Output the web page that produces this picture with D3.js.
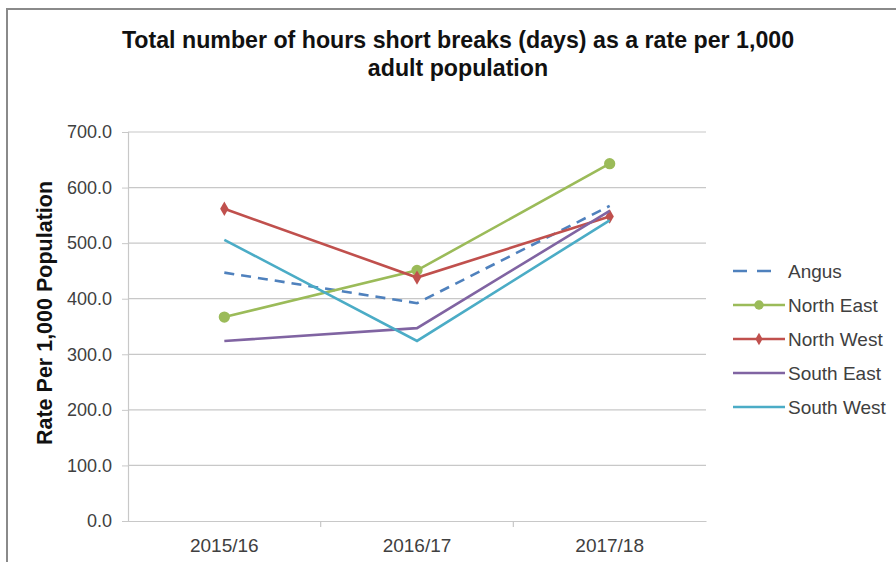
<!DOCTYPE html>
<html>
<head>
<meta charset="utf-8">
<script src="https://cdnjs.cloudflare.com/ajax/libs/d3/7.8.5/d3.min.js"></script>
<style>
  body { margin: 0; background: #fff; }
  svg { display: block; font-family: "Liberation Sans", Arial, sans-serif; }
</style>
</head>
<body>
<script>
// chart data
var years = [ '2015/16', '2016/17', '2017/18' ];
var seriesNames = [ 'Angus', 'North East', 'North West', 'South East', 'South West' ];
var angus     = [ 447, 392, 567 ];
var northEast = [ 367, 451, 643 ];
var northWest = [ 562, 438, 548 ];
var southEast = [ 324, 347, 558 ];
var southWest = [ 506, 324, 541 ];
var yTicks = [ 0, 100, 200, 300, 400, 500, 600, 700 ];

var series = [
    { name: seriesNames[0], values: angus,     color: '#4F81BD', dash: '10,7', marker: null },
    { name: seriesNames[1], values: northEast, color: '#9BBB59', dash: null,  marker: 'circle' },
    { name: seriesNames[2], values: northWest, color: '#C0504D', dash: null,  marker: 'diamond' },
    { name: seriesNames[3], values: southEast, color: '#8064A2', dash: null,  marker: null },
    { name: seriesNames[4], values: southWest, color: '#4BACC6', dash: null,  marker: null }
];

var W = 896, H = 562;
var plot = { left: 128, right: 706, top: 132, bottom: 521 };

var svg = d3.select( 'body' ).append( 'svg' )
    .attr( 'width', W ).attr( 'height', H );

svg.append( 'rect' ).attr( 'width', W ).attr( 'height', H ).attr( 'fill', '#fff' );

// outer frame (only top and left visible in the crop)
svg.append( 'rect' )
    .attr( 'x', 7 ).attr( 'y', 9 )
    .attr( 'width', W + 20 ).attr( 'height', H + 20 )
    .attr( 'fill', 'none' ).attr( 'stroke', '#8a8a8a' ).attr( 'stroke-width', 2 );

var x = d3.scaleBand().domain( years ).range( [ plot.left, plot.right ] );
var y = d3.scaleLinear().domain( [ 0, 700 ] ).range( [ plot.bottom, plot.top ] );

// gridlines
svg.append( 'g' ).selectAll( 'line' ).data( yTicks.filter( function ( d ) { return d > 0; } ) )
    .enter().append( 'line' )
    .attr( 'x1', plot.left ).attr( 'x2', plot.right )
    .attr( 'y1', function ( d ) { return y( d ); } ).attr( 'y2', function ( d ) { return y( d ); } )
    .attr( 'stroke', '#c8c8c8' ).attr( 'stroke-width', 1.2 );

// y axis
var yAxis = svg.append( 'g' )
    .attr( 'transform', 'translate(' + plot.left + ',0)' )
    .call( d3.axisLeft( y ).tickValues( yTicks ).tickFormat( d3.format( '.1f' ) ).tickSize( 6 ).tickPadding( 10 ) );
yAxis.select( '.domain' ).attr( 'stroke', '#c8c8c8' ).attr( 'stroke-width', 1.2 );
yAxis.selectAll( '.tick line' ).attr( 'stroke', '#c8c8c8' );
yAxis.selectAll( 'text' ).attr( 'fill', '#404040' ).style( 'font-size', '18px' )
    .style( 'font-family', '"Liberation Sans", Arial, sans-serif' );

// x axis
var xAxis = svg.append( 'g' )
    .attr( 'transform', 'translate(0,' + plot.bottom + ')' )
    .call( d3.axisBottom( x ).tickSize( 0 ).tickPadding( 18 ) );
xAxis.select( '.domain' ).attr( 'stroke', '#c8c8c8' ).attr( 'stroke-width', 1.2 );
xAxis.selectAll( 'text' ).attr( 'fill', '#404040' ).style( 'font-size', '19px' )
    .style( 'font-family', '"Liberation Sans", Arial, sans-serif' );
// tick marks between categories
xAxis.selectAll( '.sep' ).data( years.slice( 1 ) ).enter().append( 'line' )
    .attr( 'x1', function ( d ) { return x( d ); } ).attr( 'x2', function ( d ) { return x( d ); } )
    .attr( 'y1', 0 ).attr( 'y2', 6 )
    .attr( 'stroke', '#c8c8c8' ).attr( 'stroke-width', 1.2 );

// lines
var line = d3.line()
    .x( function ( d, i ) { return x( years[ i ] ) + x.bandwidth() / 2; } )
    .y( function ( d ) { return y( d ); } );

var g = svg.append( 'g' ).selectAll( 'g' ).data( series ).enter().append( 'g' );
g.append( 'path' )
    .attr( 'd', function ( s ) { return line( s.values ); } )
    .attr( 'fill', 'none' )
    .attr( 'stroke', function ( s ) { return s.color; } )
    .attr( 'stroke-width', 2.6 )
    .attr( 'stroke-dasharray', function ( s ) { return s.dash; } );

g.each( function ( s ) {
    if ( !s.marker ) return;
    var sym = s.marker === 'circle' ? d3.symbolCircle : d3.symbolDiamond;
    var size = s.marker === 'circle' ? 100 : 60;
    d3.select( this ).selectAll( '.m' ).data( s.values ).enter().append( 'path' )
        .attr( 'd', d3.symbol().type( sym ).size( size ) )
        .attr( 'transform', function ( d, i ) {
            return 'translate(' + ( x( years[ i ] ) + x.bandwidth() / 2 ) + ',' + y( d ) + ')';
        } )
        .attr( 'fill', s.color );
} );

// title
svg.append( 'text' )
    .attr( 'x', 458 ).attr( 'y', 48 )
    .attr( 'text-anchor', 'middle' )
    .style( 'font-size', '23.2px' ).style( 'font-weight', 'bold' ).attr( 'fill', '#111' )
    .text( 'Total number of hours short breaks (days) as a rate per 1,000' );
svg.append( 'text' )
    .attr( 'x', 458 ).attr( 'y', 76 )
    .attr( 'text-anchor', 'middle' )
    .style( 'font-size', '23.2px' ).style( 'font-weight', 'bold' ).attr( 'fill', '#111' )
    .text( 'adult population' );

// y axis title
svg.append( 'text' )
    .attr( 'transform', 'translate(52,' + 313 + ') rotate(-90)' )
    .attr( 'text-anchor', 'middle' )
    .style( 'font-size', '21.5px' ).style( 'font-weight', 'bold' ).attr( 'fill', '#111' )
    .text( 'Rate Per 1,000 Population' );

// legend
var leg = svg.append( 'g' ).selectAll( 'g' ).data( series ).enter().append( 'g' )
    .attr( 'transform', function ( s, i ) { return 'translate(733,' + ( 271 + i * 34 ) + ')'; } );
leg.append( 'line' )
    .attr( 'x1', 0 ).attr( 'x2', function ( s ) { return s.dash ? 38 : 52; } )
    .attr( 'stroke', function ( s ) { return s.color; } )
    .attr( 'stroke-width', 2.6 )
    .attr( 'stroke-dasharray', function ( s ) { return s.dash ? '14,10' : null; } );
leg.filter( function ( s ) { return s.marker; } ).append( 'path' )
    .attr( 'd', function ( s ) {
        return d3.symbol().type( s.marker === 'circle' ? d3.symbolCircle : d3.symbolDiamond )
            .size( s.marker === 'circle' ? 70 : 45 )();
    } )
    .attr( 'transform', 'translate(26,0)' )
    .attr( 'fill', function ( s ) { return s.color; } );
leg.append( 'text' )
    .attr( 'x', 55 ).attr( 'dy', '0.35em' )
    .style( 'font-size', '19px' ).attr( 'fill', '#404040' )
    .text( function ( s ) { return s.name; } );
</script>
</body>
</html>
